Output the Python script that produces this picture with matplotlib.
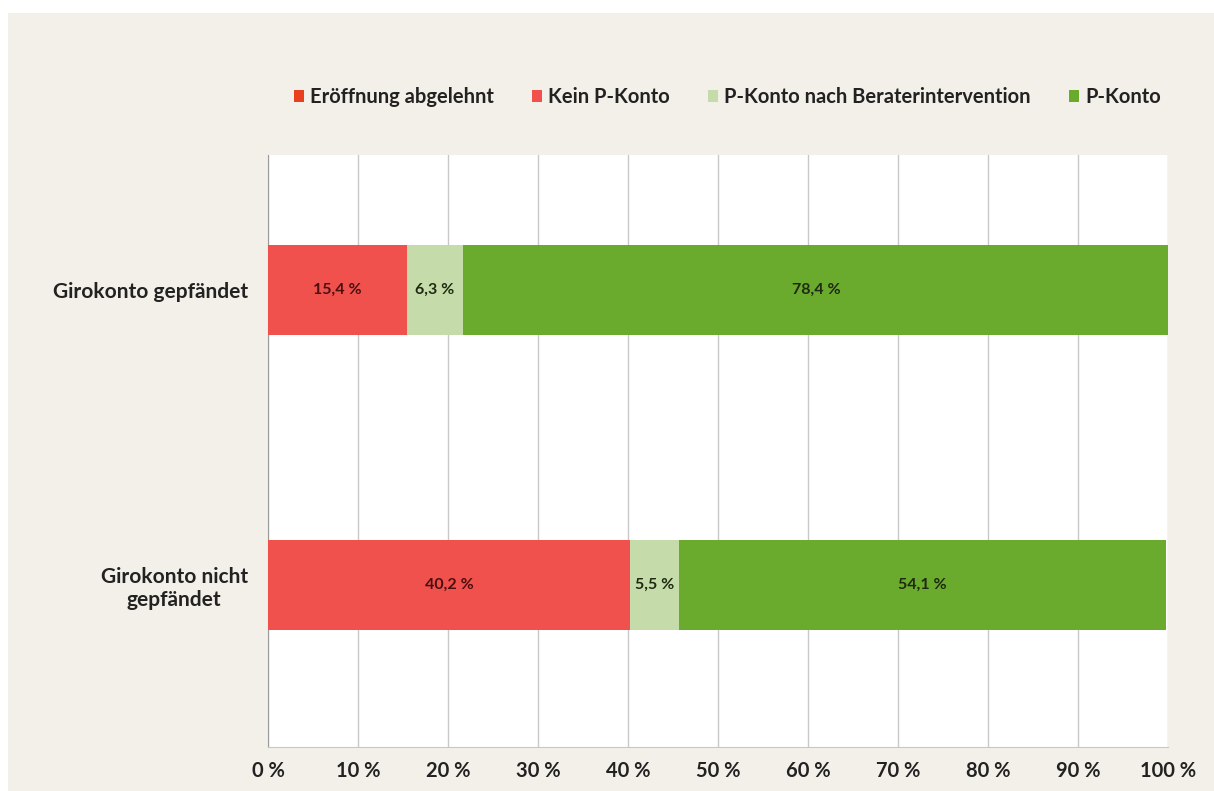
import matplotlib.pyplot as plt
import matplotlib.patches as mpatches
import numpy as np

plt.rcParams['font.family'] = ['Lato', 'DejaVu Sans']

# Data
categories = ["Girokonto gepfändet", "Girokonto nicht\ngepfändet"]
series_names = ["Eröffnung abgelehnt", "Kein P-Konto",
                "P-Konto nach Beraterintervention", "P-Konto"]
abgelehnt = [0.0, 0.0]
kein_pkonto = [15.4, 40.2]
nach_beratung = [6.3, 5.5]
pkonto = [78.4, 54.1]

colors = ["#e8401e", "#f0514d", "#c5dcaa", "#6aaa2c"]
label_colors = ["#3a1208", "#4a1010", "#1f2a12", "#1f2a12"]
xticks = [0, 10, 20, 30, 40, 50, 60, 70, 80, 90, 100]
xtick_labels = [f"{v} %" for v in xticks]

fig = plt.figure(figsize=(12.14, 7.91), dpi=100, facecolor="white")

# cream backdrop behind the chart
fig.patches.append(mpatches.Rectangle((8 / 1214, 0), 1, 1 - 13 / 791,
                                      transform=fig.transFigure,
                                      facecolor="#f3f0e9", edgecolor="none",
                                      zorder=-5))

ax = fig.add_axes([268 / 1214, 1 - 747 / 791, 900 / 1214, 592 / 791])
ax.set_facecolor("white")

ypos = np.arange(len(categories))
left = np.zeros(len(categories))
series = [abgelehnt, kein_pkonto, nach_beratung, pkonto]
for name, vals, col, lcol in zip(series_names, series, colors, label_colors):
    vals = np.array(vals)
    bars = ax.barh(ypos, vals, left=left, height=0.305, color=col,
                   label=name, zorder=3)
    for b, v in zip(bars, vals):
        if v > 0:
            ax.text(b.get_x() + b.get_width() / 2, b.get_y() + b.get_height() / 2,
                    f"{v:.1f} %".replace(".", ","), ha="center", va="center",
                    fontsize=11.5, fontweight="bold", color=lcol, zorder=4)
    left += vals

ax.set_xlim(0, 100)
ax.set_ylim(1.549, -0.458)
ax.set_xticks(xticks)
ax.set_xticklabels(xtick_labels, fontsize=14.5, fontweight="bold", color="#222222")
ax.set_yticks(ypos)
ax.set_yticklabels(categories, fontsize=15, fontweight="bold", color="#222222",
                   ha="right", multialignment="center")
ax.tick_params(axis="x", length=0, pad=10)
ax.tick_params(axis="y", length=0, pad=14.5)
ax.xaxis.grid(True, color="#c8c8c8", linewidth=1, zorder=0)
ax.set_axisbelow(True)
for side in ["top", "right"]:
    ax.spines[side].set_visible(False)
ax.spines["left"].set_color("#9a9a9a")
ax.spines["bottom"].set_color("#c8c8c8")

fig.legend(loc="center", bbox_to_anchor=(0.599, 1 - 97 / 791), ncol=4,
           frameon=False, handlelength=0.5, handleheight=0.5, handletextpad=0.3,
           columnspacing=1.9, prop={"size": 14.5, "weight": "bold"},
           labelcolor="#222222")

fig.savefig("out.png", dpi=100, facecolor=fig.get_facecolor())
